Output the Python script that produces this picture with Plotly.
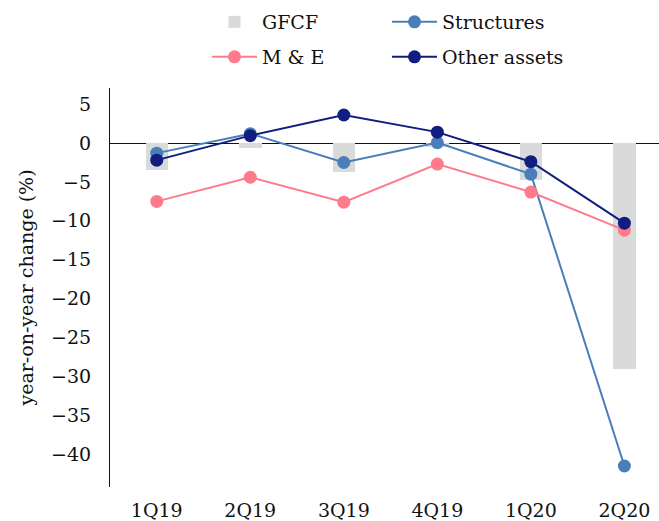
import plotly.graph_objects as go

quarters = ["1Q19", "2Q19", "3Q19", "4Q19", "1Q20", "2Q20"]
gfcf = [-3.5, -0.6, -3.7, -0.5, -4.7, -29.1]
structures = [-1.3, 1.2, -2.5, 0.05, -4.0, -41.5]
m_and_e = [-7.5, -4.4, -7.6, -2.7, -6.3, -11.2]
other_assets = [-2.2, 0.95, 3.6, 1.4, -2.4, -10.3]

y_ticks = [5, 0, -5, -10, -15, -20, -25, -30, -35, -40]
y_tick_text = [str(v).replace("-", "\u2212") for v in y_ticks]

FONT = "DejaVu Serif"
FS = 19
INK = "#111"
GREY = "#d9dada"
BLUE = "#4a7ebb"
PINK = "#ff7b8c"
NAVY = "#111e80"

fig = go.Figure()

fig.add_trace(go.Bar(
    x=quarters, y=gfcf, name="GFCF", width=0.24,
    marker=dict(color=GREY, line=dict(width=0)),
    legend="legend", showlegend=True,
))
fig.add_trace(go.Scatter(
    x=quarters, y=structures, name="Structures", mode="lines+markers",
    line=dict(color=BLUE, width=2), marker=dict(size=13, color=BLUE),
    legend="legend2",
))
fig.add_trace(go.Scatter(
    x=quarters, y=m_and_e, name="M &amp; E", mode="lines+markers",
    line=dict(color=PINK, width=2), marker=dict(size=13, color=PINK),
    legend="legend3",
))
fig.add_trace(go.Scatter(
    x=quarters, y=other_assets, name="Other assets", mode="lines+markers",
    line=dict(color=NAVY, width=2), marker=dict(size=13, color=NAVY),
    legend="legend4",
))

L, R, T, B = 110, 0, 88, 34
W, H = 659, 521
pw, ph = W - L - R, H - T - B


def px(x):
    return (x - L) / pw


def py(y):
    return (H - B - y) / ph


legend_style = dict(
    font=dict(family=FONT, size=FS, color=INK),
    bgcolor="rgba(0,0,0,0)", itemwidth=45,
    xanchor="left", yanchor="middle", orientation="v",
)

fig.update_layout(
    width=W, height=H,
    margin=dict(l=L, r=R, t=T, b=B),
    paper_bgcolor="white", plot_bgcolor="white",
    font=dict(family=FONT, size=FS, color=INK),
    showlegend=True,
    legend=dict(x=px(207), y=py(22), **legend_style),
    legend2=dict(x=px(387), y=py(22), **legend_style),
    legend3=dict(x=px(207), y=py(57), **legend_style),
    legend4=dict(x=px(387), y=py(57), **legend_style),
    bargap=0,
    xaxis=dict(
        type="category", categoryorder="array", categoryarray=quarters,
        range=[-0.5, 5.37], showline=False, showgrid=False, ticks="",
        ticklabelstandoff=10, zeroline=False,
        tickfont=dict(family=FONT, size=FS, color=INK),
    ),
    yaxis=dict(
        range=[-44.2, 7.07], tickvals=y_ticks, ticktext=y_tick_text,
        showline=True, linecolor=INK, linewidth=1.2,
        showgrid=False, ticks="", ticklabelstandoff=14,
        zeroline=True, zerolinecolor=INK, zerolinewidth=1.2,
        tickfont=dict(family=FONT, size=FS, color=INK),
        title=dict(text="year-on-year change (%)", standoff=12,
                   font=dict(family=FONT, size=FS, color=INK)),
    ),
)

fig.write_html("out.html")
